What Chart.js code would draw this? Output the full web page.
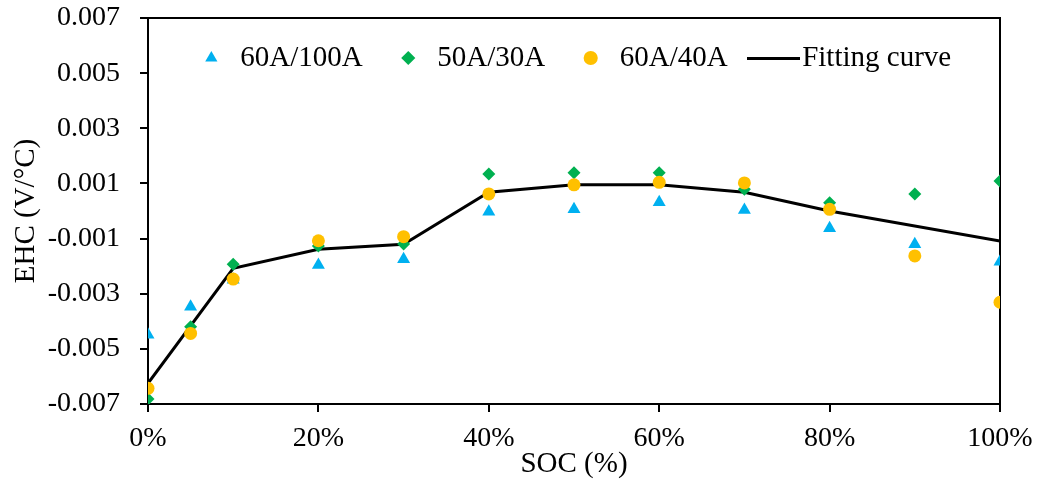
<!DOCTYPE html>
<html>
<head>
<meta charset="utf-8">
<script src="https://cdn.jsdelivr.net/npm/chart.js@4/dist/chart.umd.min.js"></script>
<style>
html, body { margin: 0; padding: 0; background: #fff; overflow: hidden; }
</style>
</head>
<body>
<canvas id="myChart" width="1037" height="486"></canvas>
<script>
// SOC (%) for the measured points
var soc = [0, 5, 10, 20, 30, 40, 50, 60, 70, 80, 90, 100];
// EHC (V/°C)
var ehc60A100A = [-0.00449, -0.00347, -0.00249, -0.00196, -0.00175, -0.00003, 0.00006, 0.00032, 0.00004, -0.00063, -0.00121, -0.00184];
var ehc50A30A = [-0.00682, -0.0042, -0.00193, -0.00127, -0.0012, 0.00134, 0.00139, 0.00139, 0.00079, 0.0003, 0.00062, 0.00109];
var ehc60A40A = [-0.00643, -0.00444, -0.00247, -0.00108, -0.00093, 0.00062, 0.00095, 0.00104, 0.00102, 0.00006, -0.00163, -0.00331];
// fitting curve
var fitSoc = [0, 10, 20, 30, 40, 50, 60, 70, 80, 100];
var fitEhc = [-0.00625, -0.00208, -0.00139, -0.00121, 0.00068, 0.00095, 0.00095, 0.00068, 0.0, -0.00109];
// axis ticks
var xTicks = [0, 20, 40, 60, 80, 100];
var yTicks = [-0.007, -0.005, -0.003, -0.001, 0.001, 0.003, 0.005, 0.007];

var serif = "'Liberation Serif', 'Times New Roman', serif";
var tickFont = {family: serif, size: 28};
var textFont = {family: serif, size: 29};
Chart.defaults.font.family = serif;
Chart.defaults.color = '#000';

function pts(xs, ys) {
  return xs.map(function (x, i) { return {x: x, y: ys[i]}; });
}

function markers(label, ys, style, r, color, order) {
  return {
    label: label,
    data: pts(soc, ys),
    pointStyle: style,
    pointRadius: r,
    pointHoverRadius: r,
    backgroundColor: color,
    borderColor: color,
    pointBackgroundColor: color,
    pointBorderColor: color,
    borderWidth: 0,
    pointBorderWidth: 0,
    order: order
  };
}

// long dash used as the legend symbol of the fitting curve
var lineSwatch = document.createElement('canvas');
lineSwatch.width = 53;
lineSwatch.height = 3;
var sw = lineSwatch.getContext('2d');
sw.fillStyle = '#000';
sw.fillRect(0, 0, 53, 3);

// legend sits inside the plot box, so it must not take layout space
var legendInside = {
  id: 'legendInside',
  afterInit: function (chart) {
    var lg = chart.legend;
    var fit = lg.fit;
    lg.fit = function () {
      fit.call(this);
      this.fullHeight = this.height;
      this.height = 0;
    };
  },
  afterLayout: function (chart) {
    var lg = chart.legend, a = chart.chartArea;
    lg.left = a.left;
    lg.right = a.right;
    lg.width = a.right - a.left;
    lg.top = a.top - 5.5;
    lg.height = lg.fullHeight;
    lg.bottom = lg.top + lg.height;
  }
};

var grid = {display: true, drawOnChartArea: false, drawTicks: true, tickLength: 8, tickWidth: 2, tickColor: '#000', color: '#000', lineWidth: 2};
var border = {display: true, color: '#000', width: 2};

var ctx = document.getElementById("myChart").getContext("2d");
var myChart = new Chart(ctx, {
  type: 'scatter',
  plugins: [legendInside],
  data: {
    datasets: [
      markers('60A/100A', ehc60A100A, 'triangle', 7.5, '#00B0F0', 2),
      markers('50A/30A', ehc50A30A, 'rectRot', 6.5, '#00B050', 1),
      markers('60A/40A', ehc60A40A, 'circle', 6.5, '#FFC000', 0),
      {
        label: 'Fitting curve',
        data: pts(fitSoc, fitEhc),
        showLine: true,
        tension: 0,
        borderColor: '#000',
        backgroundColor: '#000',
        borderWidth: 3,
        pointStyle: lineSwatch,
        pointRadius: 0,
        pointHoverRadius: 0,
        pointBorderColor: '#000',
        pointBackgroundColor: '#000',
        pointBorderWidth: 0,
        order: 3
      }
    ]
  },
  options: {
    responsive: false,
    animation: false,
    events: [],
    layout: {padding: 0},
    plugins: {
      tooltip: {enabled: false},
      legend: {
        position: 'top',
        align: 'center',
        labels: {
          usePointStyle: true,
          boxHeight: 10,
          padding: 31,
          color: '#000',
          font: textFont,
          sort: function (a, b) { return a.datasetIndex - b.datasetIndex; }
        }
      }
    },
    scales: {
      x: {
        type: 'linear',
        position: 'bottom',
        min: 0,
        max: 100,
        afterBuildTicks: function (s) { s.ticks = xTicks.map(function (v) { return {value: v}; }); },
        afterFit: function (s) { s.height = 82; s.paddingLeft = 0; s.paddingRight = 0; },
        ticks: {font: tickFont, color: '#000', padding: 10, maxRotation: 0, autoSkip: false,
          callback: function (v) { return v + '%'; }},
        grid: grid,
        border: border,
        title: {display: true, text: 'SOC (%)', font: textFont, color: '#000', padding: {top: 0, bottom: 4}}
      },
      y: {
        type: 'linear',
        position: 'left',
        min: -0.007,
        max: 0.007,
        afterBuildTicks: function (s) { s.ticks = yTicks.map(function (v) { return {value: v}; }); },
        afterFit: function (s) { s.width = 148; s.paddingTop = 0; s.paddingBottom = 0; },
        ticks: {font: tickFont, color: '#000', padding: 20, autoSkip: false,
          callback: function (v) { return v.toFixed(3); }},
        grid: grid,
        border: border,
        title: {display: true, text: 'EHC (V/°C)', font: textFont, color: '#000', padding: {top: 9, bottom: 0}}
      },
      x2: {
        type: 'linear',
        position: 'top',
        min: 0,
        max: 100,
        afterFit: function (s) { s.height = 18; s.paddingLeft = 0; s.paddingRight = 0; },
        ticks: {display: false},
        grid: {display: false, drawTicks: false},
        border: border
      },
      y2: {
        type: 'linear',
        position: 'right',
        min: -0.007,
        max: 0.007,
        afterFit: function (s) { s.width = 37; s.paddingTop = 0; s.paddingBottom = 0; },
        ticks: {display: false},
        grid: {display: false, drawTicks: false},
        border: border
      }
    }
  }
});
</script>
</body>
</html>
